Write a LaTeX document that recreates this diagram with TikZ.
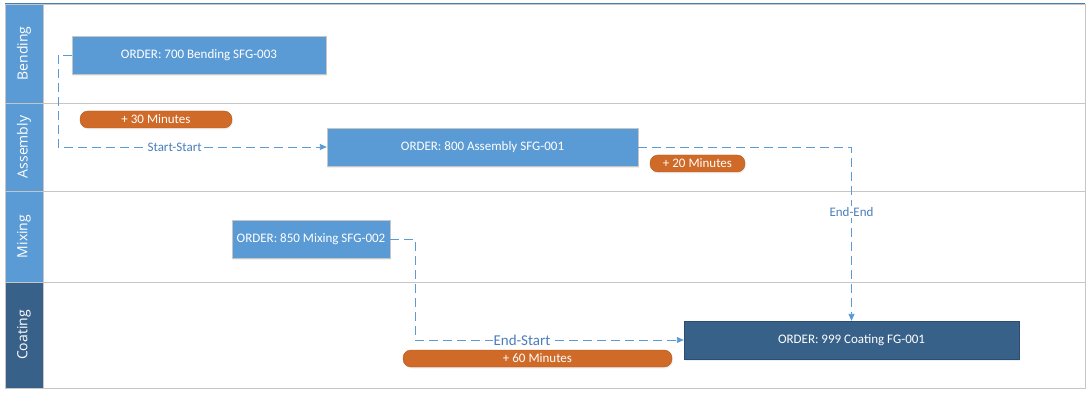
\documentclass[tikz,border=0pt]{standalone}
\usepackage{fontspec}
\setmainfont{Carlito}
\newfontfamily\hdrfont{Open Sans}
\usetikzlibrary{arrows.meta,shadows}
\definecolor{lblue}{HTML}{5B9BD5}
\definecolor{dblue}{HTML}{386189}
\definecolor{dborder}{HTML}{2B4D6E}
\definecolor{orng}{HTML}{CF6A28}
\definecolor{orngb}{HTML}{B4591C}
\definecolor{sep}{HTML}{C6C6C6}
\definecolor{topb}{HTML}{4A7DB0}
\definecolor{lbltxt}{HTML}{4A7EBB}
\tikzset{
  orderbox/.style={draw=sep, fill=lblue, text=white, inner sep=0pt, minimum height=38pt, font=\fontsize{13}{15}\selectfont, drop shadow={opacity=0.12, shadow xshift=1pt, shadow yshift=-2pt}},
  finalbox/.style={orderbox, draw=dborder, fill=dblue},
  pill/.style={rounded corners=8pt, draw=orngb, fill=orng, text=white, inner sep=0pt, minimum height=17pt, font=\fontsize{13}{15}\selectfont, drop shadow={opacity=0.12, shadow xshift=1pt, shadow yshift=-1.5pt}},
  conn/.style={draw=lblue, line width=0.9pt, dash pattern=on 9pt off 5pt, -{Triangle[length=7pt,width=6pt]}},
  connlbl/.style={fill=white, text=lbltxt, inner sep=1pt},
  hdr/.style={rotate=90, text=white, font=\hdrfont\fontsize{14}{16}\selectfont},
  hdrcell/.style={fill=lblue, draw=sep, line width=0.6pt}
}
\begin{document}
\begin{tikzpicture}[x=1pt,y=-1pt]
\useasboundingbox (0,0) rectangle (1091,395);
\fill[white] (0,0) rectangle (1091,395);
% lanes frame
\draw[sep, line width=0.8pt] (5,4) rectangle (1085,388);
\draw[sep, line width=0.8pt] (5,103) -- (1085,103);
\draw[sep, line width=0.8pt] (5,191) -- (1085,191);
\draw[sep, line width=0.8pt] (5,282) -- (1085,282);
% header cells
\path[hdrcell] (5,4) rectangle (43,103);
\path[hdrcell] (5,103) rectangle (43,191);
\path[hdrcell] (5,191) rectangle (43,282);
\path[hdrcell, fill=dblue] (5,282) rectangle (43,388);
\draw[topb, line width=1pt] (5,4) -- (1085,4);
\node[hdr] (hbend) at (24,53.5) {Bending};
\node[hdr] (hasm) at (24,147) {Assembly};
\node[hdr] (hmix) at (24,236.5) {Mixing};
\node[hdr] (hcoat) at (24,335) {Coating};
% order boxes
\node[orderbox, minimum width=254pt] (bend) at (199,55) {ORDER: 700 Bending SFG-003};
\node[orderbox, minimum width=311pt] (asm) at (482.5,147) {ORDER: 800 Assembly SFG-001};
\node[orderbox, minimum width=158pt] (mix) at (311,239) {ORDER: 850 Mixing SFG-002};
\node[finalbox, minimum width=335pt] (coat) at (851.5,340) {ORDER: 999 Coating FG-001};
% pills
\node[pill, minimum width=152pt] (p30) at (156,119.5) {+ 30 Minutes};
\node[pill, minimum width=95pt] (p20) at (697.5,163.5) {+ 20 Minutes};
\node[pill, minimum width=269pt] (p60) at (537.5,358.5) {+ 60 Minutes};
% connectors
\coordinate (c1) at (58,55);
\coordinate (c2) at (415,239);
\draw[conn] (bend.west) -- (c1) |- node[connlbl, pos=0.717, font=\fontsize{13}{15}\selectfont] (lss) {Start-Start} (asm.west);
\draw[conn] (asm.east) -| node[connlbl, pos=0.687, font=\fontsize{13}{15}\selectfont] (lee) {End-End} (coat.north);
\draw[conn] (mix.east) -- (c2) |- node[connlbl, pos=0.699, font=\fontsize{15}{17}\selectfont] (les) {End-Start} (coat.west);
\end{tikzpicture}
\end{document}
